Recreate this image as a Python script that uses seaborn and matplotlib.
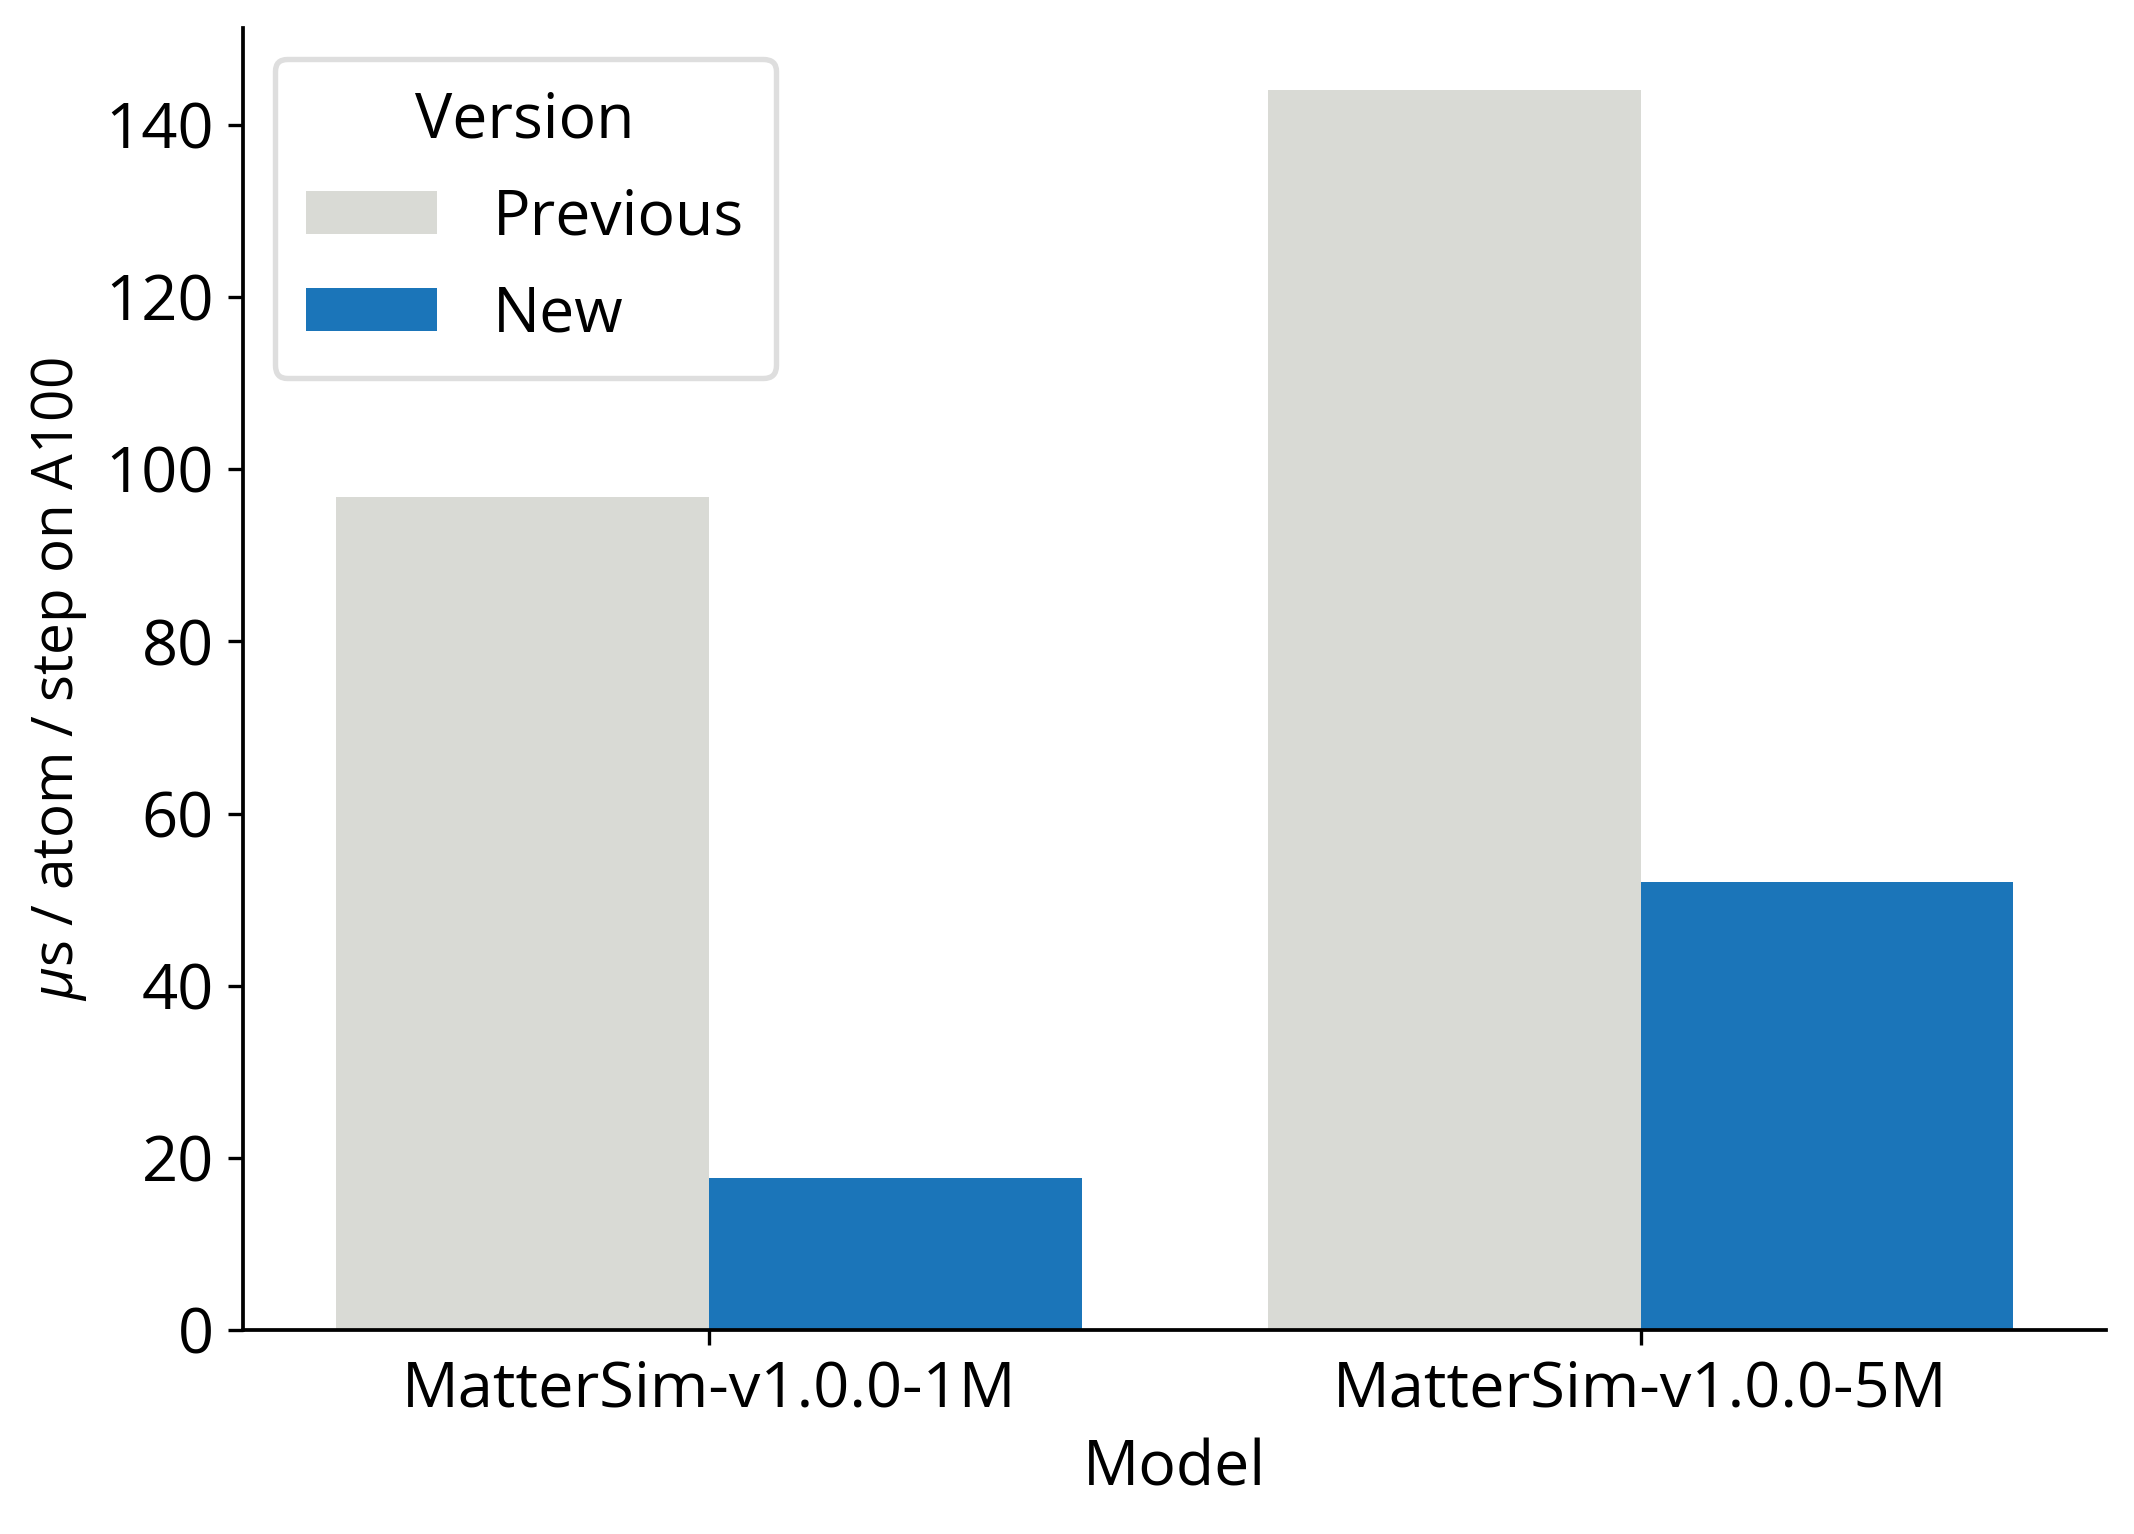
import matplotlib
matplotlib.use("Agg")
from matplotlib import pyplot as plt
import seaborn as sns
import pandas as pd

models = ["MatterSim-v1.0.0-1M", "MatterSim-v1.0.0-5M"]
versions = ["Previous", "New"]
previous_us = [96.8, 144.1]
new_us = [17.6, 52.0]

df = pd.DataFrame({
    "Model": models * 2,
    "Version": [versions[0]] * 2 + [versions[1]] * 2,
    "time": previous_us + new_us,
})

sns.set_style("ticks", {"text.color": "black", "axes.labelcolor": "black",
                        "xtick.color": "black", "ytick.color": "black",
                        "axes.edgecolor": "black"})
plt.rcParams["font.family"] = ["Open Sans", "DejaVu Sans"]
plt.rcParams["mathtext.fontset"] = "custom"
plt.rcParams["mathtext.it"] = "Open Sans:italic"
plt.rcParams["mathtext.rm"] = "Open Sans"

fig, ax = plt.subplots(figsize=(2134 / 300, 1534 / 300), dpi=300)
fig.subplots_adjust(left=0.114, right=0.987, bottom=0.133, top=0.982)

sns.barplot(data=df, x="Model", y="time", hue="Version", hue_order=versions,
            palette=["#d9dad5", "#1b75b9"], saturation=1, width=0.8,
            linewidth=0, ax=ax)
sns.despine(ax=ax)

ax.set_xlabel("Model", fontsize=15)
ax.set_ylabel(r"$\mu$s / atom / step on A100", fontsize=13.6)
ax.tick_params(axis="both", labelsize=15.2, width=0.8)
for s in ["left", "bottom"]:
    ax.spines[s].set_linewidth(0.9)

leg = ax.legend(title="Version", loc="upper left", fontsize=15, title_fontsize=15,
                handlelength=2.1, handleheight=0.7, handletextpad=0.9,
                labelspacing=0.55, borderpad=0.5, fancybox=True)
leg.get_frame().set_edgecolor("#d6d6d6")
leg.get_frame().set_linewidth(1.3)

fig.savefig("out.png", dpi=300)
